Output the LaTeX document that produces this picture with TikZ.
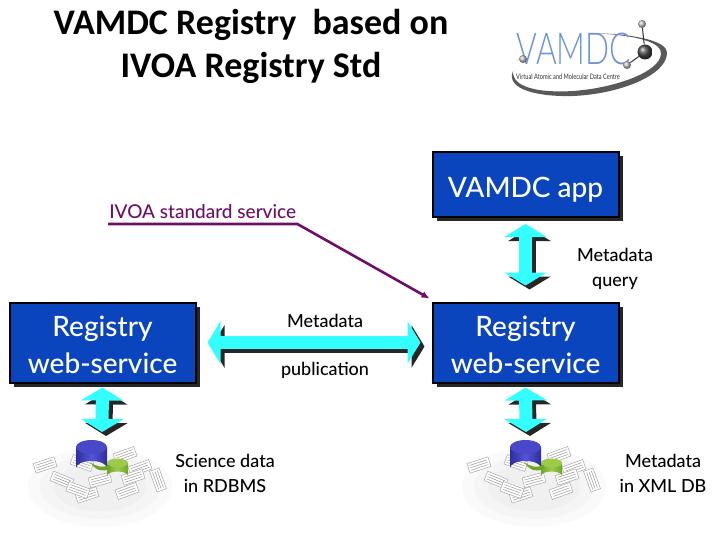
\documentclass[tikz,border=0pt]{standalone}
\usepackage{graphicx}
\usepackage{fontspec}
\setmainfont{Lato Medium}
\newfontfamily\titlefont{Carlito}
\newfontfamily\logofont{Lato Light}
\usetikzlibrary{arrows.meta, shadows}
\definecolor{boxblue}{HTML}{0B45BE}
\definecolor{arrowcyan}{HTML}{33FFFF}
\definecolor{ivoapurple}{HTML}{6E0F66}
\definecolor{logoblue}{HTML}{6C93DC}
\definecolor{dbside}{HTML}{2E2E9C}
\definecolor{dbmid}{HTML}{5454D8}
\definecolor{dbtop}{HTML}{4848C8}
\definecolor{dbgreen}{HTML}{6FA52C}
\definecolor{dbgreenhi}{HTML}{9CCB4A}
\tikzset{
  block/.style={draw=black, line width=2pt, fill=boxblue, text=white, align=center,
    minimum width=186pt, font=\fontsize{28}{37}\selectfont,
    drop shadow={shadow xshift=4pt, shadow yshift=-4pt, fill=black!85, opacity=1}},
  label/.style={align=center, text=black, inner sep=0pt, font=\fontsize{18}{25}\selectfont},
  bigarrow/.style={line width=13pt, draw=arrowcyan, {Triangle[width=42pt,length=13pt]}-{Triangle[width=42pt,length=13pt]}},
  bigshadow/.style={line width=13pt, draw=black!85, {Triangle[width=42pt,length=13pt]}-{Triangle[width=42pt,length=13pt]},
    transform canvas={shift={(4pt,-4pt)}}},
  atom/.style={circle, inner sep=0pt, minimum size=8pt, ball color=black!25},
  sheet/.style={draw=black!35, fill=white, line width=.5pt},
  pics/dbicon/.style={code={
    \foreach \tone/\rx/\ry in {2/72/40, 4/60/32, 6/46/24}{
      \fill[black!\tone] (100,487) ellipse [x radius=\rx, y radius=\ry];
    }
    \foreach \px/\py/\ang in {45/465/18, 62/480/-22, 82/463/-20, 87/495/18, 78/490/-20, 125/455/20, 140/468/20, 158/480/-70, 127/491/20, 133/477/18, 100/480/15}{
      \begin{scope}[shift={(\px,\py)}, rotate=\ang]
        \draw[sheet] (-11,-5) rectangle (11,5);
        \draw[black!40, line width=.5pt] (-9,-2.5) -- (9,-2.5) (-9,0) -- (9,0) (-9,2.5) -- (9,2.5);
      \end{scope}
    }
    \path[left color=dbside, right color=dbside, middle color=dbmid]
      (76,447) -- (76,468) arc [start angle=180, end angle=360, x radius=15.5, y radius=7] -- (107,447) -- cycle;
    \fill[dbtop] (91.5,447) ellipse [x radius=15.5, y radius=7];
    \path[left color=dbgreen, right color=dbgreen, middle color=dbgreenhi]
      (107,463) -- (107,476) arc [start angle=180, end angle=360, x radius=10.5, y radius=4.5] -- (128,463) -- cycle;
    \fill[dbgreenhi] (117.5,463) ellipse [x radius=10.5, y radius=4.5];
    \fill[dbgreen] (90,462) .. controls (97,467) and (102,468) .. (110,465) -- (110,469) .. controls (102,472) and (96,471) .. (90,462);
  }}
}
% block arrow with its shadow
\newcommand{\blockarrow}[2]{
  \draw[bigshadow] (#1) -- (#2);
  \draw[bigarrow] (#1) -- (#2);
}
\begin{document}
\begin{tikzpicture}[x=1pt, y=-1pt]
\useasboundingbox (0,0) rectangle (720,540);

% title
\node[align=center, font=\titlefont\bfseries\fontsize{36}{43}\selectfont, inner sep=0pt] (title) at (251,46) {VAMDC Registry \ based on\\IVOA Registry Std};

% logo
\fill[black!65] (513,71) .. controls (505,90) and (540,97) .. (573,96) .. controls (620,94) and (668,75) .. (667,52)
  .. controls (666,42) and (640,34) .. (590,33) .. controls (640,35) and (662,43) .. (661,54)
  .. controls (660,72) and (615,88) .. (573,91) .. controls (540,93) and (512,88) .. (513,71) -- cycle;
\node[inner sep=0pt, text=logoblue, font=\logofont\fontsize{44}{44}\selectfont] (logotext) at (574,49) {\scalebox{.72}[1]{VAMDC}};
\node[inner sep=0pt, text=black!75, font=\fontsize{7.5}{9}\selectfont] (tagline) at (568,77) {\scalebox{.75}[1]{Virtual Atomic and Molecular Data Centre}};
\node[atom] (atomtop) at (642,24) {};
\node[atom] (atomlow) at (627,65) {};
\node[atom] (atomfar) at (523,59) {};
\node[atom, minimum size=15pt, ball color=black!70] (atomhub) at (645,52) {};
\draw[black!80, line width=1pt] (atomtop) -- (atomhub);
\draw[black!80, line width=1pt] (atomlow) -- (atomhub);
\draw[black!50, line width=.6pt, densely dotted] (atomfar) -- (logotext);

% boxes
\node[block, minimum height=65pt, text height=28pt, text depth=2pt] (app) at (525.5,184.5) {VAMDC app};
\node[block, minimum height=80pt] (rr) at (525.5,342.5) {\rule{0pt}{26pt}Registry\\web-service};
\node[block, minimum height=80pt] (ll) at (102.5,342.5) {\rule{0pt}{26pt}Registry\\web-service};

% database icons
\pic at (0,0) {dbicon};
\pic at (434,0) {dbicon};
\coordinate (dbl) at (102,432);
\coordinate (dbr) at (526,432);

% block arrows
\blockarrow{[yshift=-6pt]app.south}{[yshift=16pt]rr.north}
\blockarrow{[xshift=11pt]ll.east}{[xshift=-11pt]rr.west}
\blockarrow{[yshift=-4pt]ll.south}{dbl}
\blockarrow{[yshift=-4pt]rr.south}{dbr}

% labels
\node[label] (query) at (615,269) {Metadata\\query};
\node[label] (meta) at (325,321) {Metadata};
\node[label] (pub) at (325,370) {publication};
\node[label] (sci) at (225,473) {Science data\\in RDBMS};
\node[label] (xml) at (663,473) {Metadata\\in XML DB};

% IVOA callout
\node[label, text=ivoapurple, anchor=south west, minimum width=189pt, inner ysep=5pt, font=\fontsize{19}{25}\selectfont] (ivoa) at (108,224) {IVOA standard service};
\draw[ivoapurple, line width=2.6pt, -{Latex[length=8pt,width=7pt]}]
  (ivoa.south west) -- (ivoa.south east) -- ([shift={(-2pt,3pt)}]rr.north west);
\end{tikzpicture}
\end{document}
